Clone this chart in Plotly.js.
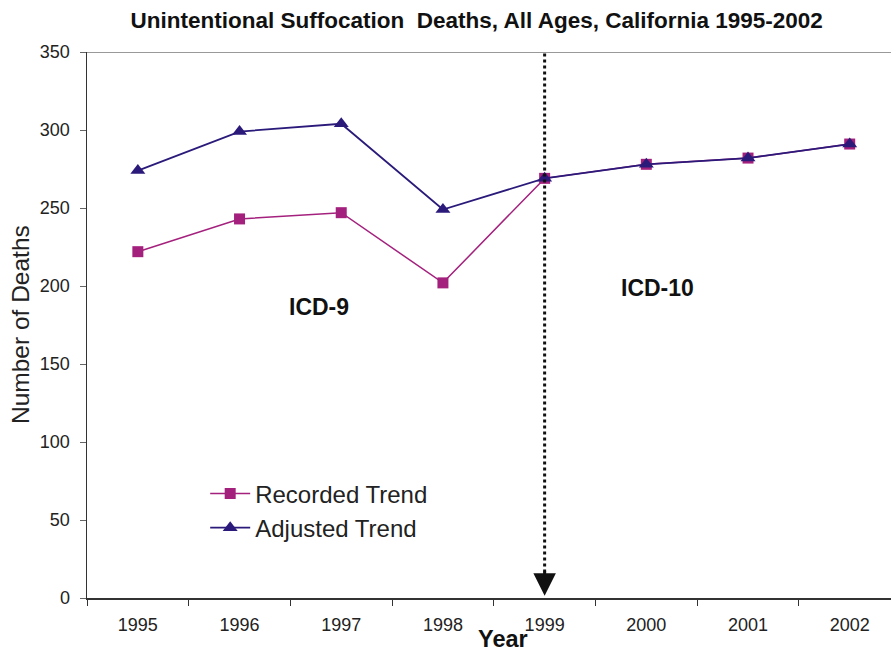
<!DOCTYPE html>
<html>
<head>
<meta charset="utf-8">
<script src="https://cdn.plot.ly/plotly-3.0.1.min.js"></script>
<style>html,body{margin:0;padding:0;background:#fff;}#chart{width:891px;height:651px;}</style>
</head>
<body>
<div id="chart"></div>
<script>
const years = ["1995","1996","1997","1998","1999","2000","2001","2002"];
const recorded = [222, 243, 247, 202, 269, 278, 282, 291];
const adjusted = [274, 299, 304, 249, 269, 278, 282, 291];
const yTicks = [0, 50, 100, 150, 200, 250, 300, 350];

const font = "Liberation Sans, Arial, sans-serif";
const traces = [
  {x: years, y: recorded, name: "Recorded Trend", type: "scatter", mode: "lines+markers",
   line: {color: "#A4207D", width: 1.5}, marker: {symbol: "square", size: 11, color: "#A4207D"}},
  {x: years, y: adjusted, name: "Adjusted Trend", type: "scatter", mode: "lines+markers",
   line: {color: "#2B1A7A", width: 1.8}, marker: {symbol: "triangle-up", size: 13, color: "#2B1A7A"}}
];
const layout = {
  width: 891, height: 651,
  margin: {l: 87, r: 0, t: 52, b: 53},
  paper_bgcolor: "#fff", plot_bgcolor: "#fff",
  font: {family: font, color: "#222"},
  title: {text: "<b>Unintentional Suffocation  Deaths, All Ages, California 1995-2002</b>",
          font: {size: 22.5, color: "#111"}, x: 0.535, xanchor: "center", y: 0.969, yanchor: "middle"},
  showlegend: true,
  legend: {x: 0.147, y: 0.232, xanchor: "left", yanchor: "top", bgcolor: "rgba(0,0,0,0)",
           font: {size: 24, color: "#222"}, itemwidth: 40},
  xaxis: {type: "category", range: [-0.5, 7.406], showgrid: false, zeroline: false,
          showline: true, linecolor: "#333", linewidth: 1.5,
          ticks: "outside", tickson: "boundaries", ticklen: 6, tickcolor: "#333", tickwidth: 1,
          ticklabelstandoff: 10,
          tickfont: {size: 18, color: "#222"}},
  yaxis: {range: [0, 350], tickvals: yTicks, showgrid: false, zeroline: false,
          showline: true, linecolor: "#333", linewidth: 1.5,
          ticks: "outside", ticklen: 6, tickcolor: "#666", tickwidth: 1,
          ticklabelstandoff: 6,
          tickfont: {size: 18, color: "#222"}},
  shapes: [
    {type: "line", xref: "paper", yref: "y", x0: 0, x1: 1, y0: 350, y1: 350,
     line: {color: "#999", width: 2}},
    {type: "line", xref: "x", yref: "y", x0: 4, x1: 4, y0: 349, y1: 15,
     line: {color: "#111", width: 3, dash: "dot"}}
  ],
  annotations: [
    {x: 4, y: 1.5, xref: "x", yref: "y", showarrow: true, ax: 0, ay: -26,
     arrowhead: 2, arrowsize: 1.5, arrowwidth: 3, arrowcolor: "#111", text: ""},
    {x: 1.78, y: 186.5, xref: "x", yref: "y", text: "<b>ICD-9</b>", showarrow: false,
     font: {size: 23, color: "#111"}},
    {x: 5.11, y: 198.7, xref: "x", yref: "y", text: "<b>ICD-10</b>", showarrow: false,
     font: {size: 23, color: "#111"}},
    {x: 0.517, y: -0.0745, xref: "paper", yref: "paper", text: "<b>Year</b>", showarrow: false,
     xanchor: "center", yanchor: "middle", font: {size: 23.5, color: "#111"}},
    {x: -0.0833, y: 0.5, xref: "paper", yref: "paper", text: "Number of Deaths", showarrow: false,
     textangle: -90, xanchor: "center", yanchor: "middle", font: {size: 24.5, color: "#222"}}
  ]
};
Plotly.newPlot("chart", traces, layout, {displayModeBar: false, staticPlot: true});
</script>
</body>
</html>
